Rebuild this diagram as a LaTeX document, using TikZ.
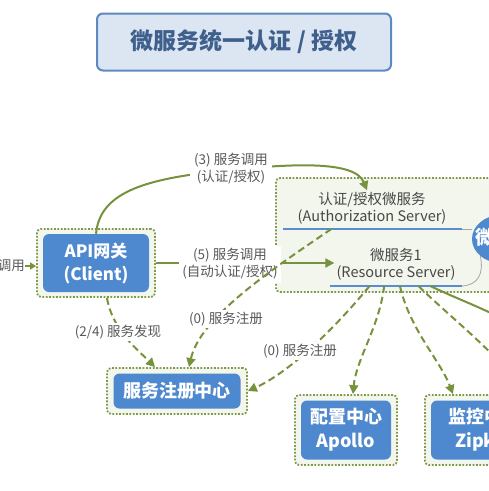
\documentclass[tikz,border=0pt]{standalone}
\usepackage{fontspec}
\setmainfont{Noto Sans CJK SC}
\usetikzlibrary{arrows.meta,calc,shapes.geometric}
\definecolor{gline}{HTML}{76923C}
\definecolor{dotc}{HTML}{7E9A4A}
\definecolor{lgfill}{HTML}{F3F6EC}
\definecolor{bbox}{HTML}{4E88CF}
\definecolor{ublue}{HTML}{5B8BD0}
\definecolor{txtg}{HTML}{595959}
\definecolor{ttlfill}{HTML}{DCE6F2}
\definecolor{ttldraw}{HTML}{5E88C0}
\definecolor{ttltext}{HTML}{3F5F8C}
\begin{document}
\begin{tikzpicture}[x=1pt,y=-1pt,
  outerbox/.style={draw=dotc,fill=lgfill,line width=1.8pt,dash pattern=on 1.8pt off 1.6pt,rounded corners=4pt,inner sep=0pt},
  bluebox/.style={fill=bbox,rounded corners=6pt,text=white,font=\bfseries\fontsize{17}{23}\selectfont,align=center,inner sep=0pt},
  lbl/.style={text=txtg,font=\fontsize{13.5}{17}\selectfont,align=center,inner sep=2pt},
  lblw/.style={lbl,fill=white},
  srv/.style={text=txtg!80!black,font=\fontsize{14.5}{17}\selectfont,align=center,inner sep=2pt},
  garrow/.style={draw=gline,line width=2pt,-{Triangle[length=9pt,width=9pt]}},
  gdash/.style={garrow,dash pattern=on 7pt off 4pt},
  uline/.style={draw=ublue,line width=1.6pt},
  gcurve/.style={draw=gray!70,line width=0.8pt}
]
\useasboundingbox (0,0) rectangle (489,491);
% title
\node[draw=ttldraw,fill=ttlfill,line width=2pt,rounded corners=6pt,minimum width=294pt,minimum height=57pt,text=ttltext,font=\bfseries\fontsize{23}{26}\selectfont] (title) at (244,42) {微服务统一认证 / 授权};
% server container
\node[outerbox,minimum width=240pt,minimum height=114pt] (cont) at (396,235) {};
\node[srv] (auth) at (372,208.5) {认证/授权微服务\\(Authorization Server)};
\node[srv] (res) at (396,264.5) {微服务1\\(Resource Server)};
\coordinate (u1a) at (283,229); \coordinate (u1b) at (462,229);
\coordinate (u2a) at (330,286); \coordinate (u2b) at (462,286);
\draw[uline] (u1a) -- (u1b);
\draw[uline] (u2a) -- (u2b);
% bubble
\node[ellipse,fill=bbox,minimum width=58pt,minimum height=48pt,inner sep=0pt] (bub) at (501,239) {};
\node[text=white,font=\bfseries\fontsize{19}{20}\selectfont,inner sep=0pt] (bubt) at (485,237) {微};
\draw[gcurve] (u1b) .. controls (467,229) .. (bub.west |- u1b);
\draw[gcurve] (u2b) .. controls (478,285) and (484,274) .. (bub.south west);
% API gateway
\node[outerbox,minimum width=118pt,minimum height=68pt] (apiO) at (96,263) {};
\node[bluebox,minimum width=106pt,minimum height=58pt] (api) at (96,263) {API网关\\(Client)};
% registry
\node[outerbox,minimum width=140pt,minimum height=46pt] (regO) at (177,391) {};
\node[bluebox,minimum width=127pt,minimum height=35pt,font=\bfseries\fontsize{18}{20}\selectfont] (reg) at (177,391) {服务注册中心};
% apollo
\node[outerbox,minimum width=102pt,minimum height=70pt] (apO) at (346,430) {};
\node[bluebox,minimum width=90pt,minimum height=59pt,font=\bfseries\fontsize{18}{24}\selectfont] (ap) at (346,430) {配置中心\\Apollo};
% zipkin
\node[outerbox,minimum width=118pt,minimum height=70pt] (zkO) at (484,430) {};
\node[bluebox,minimum width=106pt,minimum height=59pt,font=\bfseries\fontsize{18}{24}\selectfont] (zk) at (484,430) {监控中心\\Zipkin};
% left incoming
\node[lbl,anchor=east,inner sep=0pt] (inl) at (25,266) {调用};
\draw[draw=gline,line width=2pt,-{Triangle[length=6pt,width=7pt]}] (inl.east) -- (apiO.west |- inl.east);
% (3)
\draw[garrow] (api.north) .. controls (100,190) and (150,178) .. (230,170) .. controls (290,164) and (355,160) .. ([xshift=-5pt]auth.north);
\node[lblw,inner sep=4pt] (l3) at (231,168.5) {(3) 服务调用\\(认证/授权)};
% (5)
\draw[garrow] (apiO.east) -- (apiO.east -| res.west);
\node[lblw,inner sep=3pt] (l5) at (230,264) {(5) 服务调用\\(自动认证/授权)};
% (2/4)
\draw[gdash] ([xshift=11pt]apiO.south) .. controls (112,330) and (140,352) .. ([xshift=-22pt]regO.north);
\node[lblw] (l24) at (118,332) {(2/4) 服务发现};
% (0) from auth
\draw[gdash] ($(u1a)!0.27!(u1b)$) .. controls (268,272) and (200,318) .. ([xshift=12pt]regO.north);
\node[lblw] (l0a) at (226,319) {(0) 服务注册};
% (0) from resource
\draw[gdash] ($(u2a)!0.3!(u2b)$) .. controls (335,328) and (290,372) .. (regO.east);
\node[lblw] (l0b) at (300,351) {(0) 服务注册};
% to apollo, zipkin
\draw[gdash] ($(u2a)!0.41!(u2b)$) .. controls (380,325) and (356,360) .. ([xshift=7pt]apO.north);
\draw[gdash] ($(u2a)!0.53!(u2b)$) .. controls (410,330) and (440,360) .. ([xshift=-31pt]zkO.north);
\coordinate (off1) at (505,368);
\coordinate (off2) at (505,320);
\draw[gdash,-] ($(u2a)!0.67!(u2b)$) .. controls (445,312) and (478,338) .. (off1);
\draw[draw=gline,line width=2pt] ($(u2a)!0.76!(u2b)$) .. controls (455,298) and (478,306) .. (off2);
\end{tikzpicture}
\end{document}
